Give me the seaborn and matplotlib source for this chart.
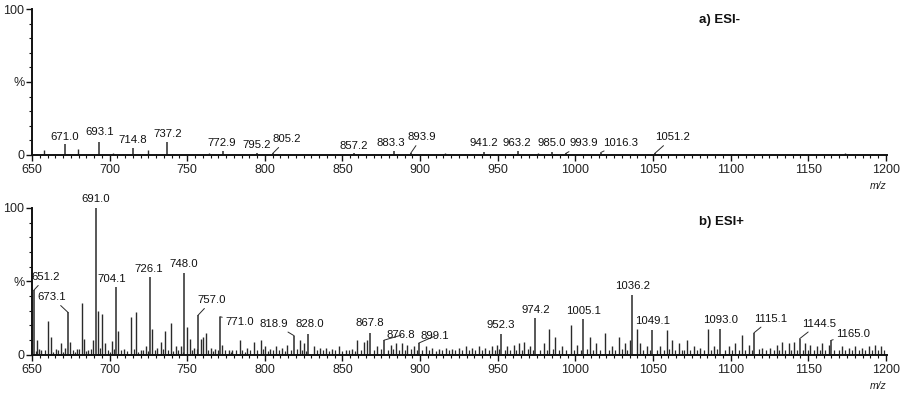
"""Two-panel ESI mass spectra (negative / positive mode) drawn as stick spectra."""
import matplotlib
matplotlib.use("Agg")
import matplotlib.pyplot as plt
from matplotlib.ticker import MultipleLocator, FixedLocator
import seaborn as sns

sns.set_style("ticks")
plt.rcParams["font.family"] = ["Liberation Sans", "DejaVu Sans"]

# ---------------- data: a) ESI- ----------------
neg_label_mz = [671.0, 693.1, 714.8, 737.2, 772.9, 795.2, 805.2, 857.2, 883.3,
                893.9, 941.2, 963.2, 985.0, 993.9, 1016.3, 1051.2]
neg_label_int = [7.5, 9.0, 5.0, 8.7, 2.3, 1.6, 1.1, 1.5, 2.3,
                 1.0, 2.0, 2.5, 2.0, 1.0, 1.5, 1.0]
neg_other_mz = [653.0, 658.0, 664.5, 679.6, 686.0, 702.0, 708.5, 724.7, 730.0,
                741.0, 764.0, 781.0, 816.0, 842.0, 870.0, 916.0, 929.0, 976.0,
                1023.0, 1038.7, 1047.0, 1080.0, 1112.0, 1140.0, 1174.0]
neg_other_int = [0.6, 3.0, 0.8, 4.0, 0.7, 1.0, 0.6, 3.0, 0.8,
                 0.7, 1.0, 0.5, 0.6, 0.5, 0.6, 1.5, 0.5, 1.0,
                 0.8, 0.8, 0.8, 0.5, 0.5, 0.6, 1.0]

# ---------------- data: b) ESI+ ----------------
pos_label_mz = [651.2, 673.1, 691.0, 704.1, 726.1, 748.0, 757.0, 771.0, 818.9,
                828.0, 867.8, 876.8, 899.1, 952.3, 974.2, 1005.1, 1036.2, 1049.1,
                1093.0, 1115.1, 1144.5, 1165.0]
pos_label_int = [44, 29, 100, 46, 53, 56, 27, 26, 13,
                 14, 15, 10, 8, 14, 25, 24.5, 41, 17,
                 17.5, 15, 11, 10]

# medium peaks (unlabelled)
pos_mid_mz = [653.4, 654.6, 656.0, 660.3, 662.4, 665.5, 668.8, 671.5, 674.6, 678.9,
              682.1, 683.2, 686.4, 689.6, 692.8, 695.4, 697.0, 701.3, 705.3, 709.2,
              713.5, 717.2, 719.9, 723.2, 727.5, 730.7, 732.8, 735.6, 739.3, 742.5,
              745.7, 750.0, 751.5, 754.3, 759.0, 760.3, 761.8, 765.0, 768.2, 772.5,
              776.8, 779.0, 783.9, 788.6, 792.9, 797.2, 800.4, 803.6, 806.9, 811.1,
              814.4, 822.9, 825.1, 831.5, 835.8, 839.1, 843.4, 847.7, 852.0, 856.2,
              859.5, 863.8, 865.9, 872.4, 881.0, 884.2, 888.5, 891.7, 896.0, 903.5,
              907.8, 912.1, 916.4, 920.6, 925.0, 929.3, 933.5, 937.8, 942.1, 946.4,
              949.6, 956.0, 960.4, 963.6, 967.2, 971.1, 979.7, 983.3, 987.2, 991.5,
              996.9, 1001.1, 1009.7, 1013.0, 1019.4, 1023.7, 1028.0, 1032.3, 1034.9, 1039.8,
              1041.9, 1046.2, 1054.8, 1059.1, 1062.3, 1066.6, 1072.0, 1076.3, 1080.6, 1085.3,
              1089.1, 1098.8, 1103.1, 1107.4, 1111.7, 1120.3, 1125.6, 1129.9, 1133.1, 1137.4,
              1140.7, 1148.2, 1151.4, 1155.7, 1158.9, 1163.2, 1171.8, 1176.1, 1180.4, 1184.6,
              1188.9, 1193.3, 1197.1]
pos_mid_int = [10, 4, 3, 23, 12.5, 4, 8, 5, 9, 4,
               35, 11, 3, 10, 30, 28, 8, 9.5, 16.5, 4,
               25.6, 29, 3, 6, 17.5, 5, 9, 16, 22, 6,
               6, 19, 11, 5, 11, 12.5, 15, 5, 4, 7,
               3, 3, 10, 5, 9, 10, 6, 4, 6, 5,
               7, 10, 8, 6, 5, 5, 4, 6, 3, 4,
               10, 9, 10, 6, 7, 8, 8, 7, 6, 6,
               5, 4, 5, 4, 5, 6, 5, 6, 5, 6,
               7, 6, 7, 8, 9, 6, 8, 17.5, 12, 6,
               20, 7, 12, 8, 15, 6, 12.5, 8, 10, 17.5,
               8, 6, 6, 17, 10, 8, 10, 6, 5, 17.5,
               6, 6, 8, 13.6, 7, 5, 5, 7, 9, 8,
               9, 8, 7, 6, 8, 7, 6, 5, 6, 5,
               6, 7, 6]

# low-level chemical noise
pos_low_mz = [652.5, 658.1, 663.8, 667.0, 670.2, 676.1, 677.5, 680.4, 685.0, 688.0,
              694.0, 699.1, 700.2, 703.0, 707.4, 711.0, 715.4, 718.5, 721.6, 724.6,
              729.0, 734.2, 737.6, 741.0, 744.1, 747.0, 753.0, 756.0, 763.5, 766.6,
              769.8, 774.4, 778.0, 781.4, 785.5, 787.2, 790.5, 794.8, 798.8, 802.0,
              805.2, 808.8, 812.8, 816.9, 820.8, 824.0, 826.8, 833.4, 837.5, 841.3,
              845.5, 849.9, 854.0, 858.0, 861.7, 870.2, 874.8, 879.1, 882.6, 886.4,
              890.0, 893.9, 898.0, 901.4, 905.6, 910.0, 914.2, 918.4, 922.8, 927.1,
              931.4, 935.6, 940.0, 944.3, 948.0, 951.0, 954.4, 958.2, 962.0, 965.4,
              969.2, 972.8, 977.0, 981.5, 985.3, 989.5, 993.9, 999.0, 1003.4, 1007.6,
              1011.4, 1016.0, 1021.5, 1025.8, 1030.0, 1033.6, 1043.9, 1048.0, 1052.4, 1057.0,
              1060.6, 1064.4, 1068.8, 1070.3, 1074.0, 1078.4, 1082.8, 1087.2, 1091.5, 1096.3,
              1100.9, 1105.2, 1109.6, 1113.8, 1118.2, 1122.9, 1127.8, 1131.5, 1135.3, 1139.0,
              1142.8, 1146.6, 1150.0, 1153.6, 1157.3, 1161.0, 1166.4, 1169.6, 1174.0, 1178.3,
              1182.5, 1186.8, 1191.1, 1195.2, 1199.0]
pos_low_int = [2.5, 3, 2, 3.5, 2, 3, 2, 4, 2.5, 4,
               5, 3, 2, 4, 3, 2.5, 4, 2, 3.5, 2.5,
               3, 4, 3, 2.5, 3.5, 2, 3, 4, 3, 2.5,
               3.5, 3, 2, 3.5, 3, 2, 3.5, 3, 4, 2.5,
               3.5, 3, 2.5, 3.5, 4, 3, 2.5, 3, 3.5, 2.5,
               3, 2.5, 3, 2.5, 3.5, 3, 4, 3, 4, 3.5,
               3, 4, 3, 3.5, 3, 2.5, 3, 3.5, 3, 3.5,
               3, 3.5, 3, 3.5, 3, 4, 3.5, 3, 3.5, 3,
               4, 3, 3.5, 3, 4, 3, 3.5, 3, 3.5, 4,
               3, 3.5, 3, 3.5, 4, 3, 3.5, 3, 3.5, 3,
               4, 3, 3.5, 3, 3.5, 3, 3.5, 3, 4, 3,
               3.5, 3, 3.5, 3, 4, 3, 3.5, 3, 3.5, 3,
               3.5, 3, 3.5, 3, 3.5, 3, 3.5, 3, 3.5, 3,
               3.5, 3, 3.5, 3, 3]

x_ticks = [650, 700, 750, 800, 850, 900, 950, 1000, 1050, 1100, 1150, 1200]
y_ticks = [0, 50, 100]
y_ticklabels = ["0", "%", "100"]

# label placement (pixel offsets from peak top; leader line flag)
neg_offsets = [(0, 1, False), (1, 4, False), (0, 2, False), (0, 2, False), (-1, 2, False),
               (-1, 2, False), (14, 8, True), (0, 1, False), (-3, 2, False), (11, 10, True),
               (0, 3, False), (-1, 2, False), (0, 3, False), (18, 4, True), (20, 4, True),
               (18, 10, True)]
pos_offsets = [(12, 7, True), (-16, 9, True), (0, 3, False), (-4, 2, False), (-1, 2, False),
               (0, 3, False), (14, 9, True), (20, -11, True), (-20, 6, True), (1, 4, False),
               (0, 4, False), (17, -1, True), (16, 1, True), (-1, 3, False), (1, 2, False),
               (0, 2, False), (1, 3, False), (1, 3, False), (1, 3, False), (17, 8, True),
               (19, 9, True), (22, 0, True)]

STEM = "#2a2a2a"

fig = plt.figure(figsize=(9.14, 3.93), dpi=100)
ax_a = fig.add_axes([0.035, 0.606, 0.935, 0.371])
ax_b = fig.add_axes([0.035, 0.097, 0.935, 0.374])


def draw_panel(ax, groups, lab_mz, lab_int, offsets, title, title_y):
    for mz, inten, lw in groups:
        ax.vlines(mz, 0, inten, color=STEM, lw=lw)
    ax.vlines(lab_mz, 0, lab_int, color=STEM, lw=1.1)
    for mz, inten, (dx, dy, lead) in zip(lab_mz, lab_int, offsets):
        kw = {}
        if lead:
            kw["arrowprops"] = dict(arrowstyle="-", lw=0.7, color=STEM,
                                    shrinkA=0, shrinkB=0)
        ax.annotate(f"{mz:.1f}", xy=(mz, inten), xytext=(dx, dy + 1),
                    textcoords="offset pixels", ha="center", va="bottom",
                    fontsize=8.2, color="#111", annotation_clip=False, **kw)

    ax.set_xlim(650, 1200.5)
    ax.set_ylim(0, 100)
    ax.xaxis.set_major_locator(FixedLocator(x_ticks))
    ax.xaxis.set_minor_locator(MultipleLocator(5))
    ax.yaxis.set_major_locator(FixedLocator(y_ticks))
    ax.yaxis.set_minor_locator(MultipleLocator(10))
    ax.set_yticklabels(y_ticklabels)
    ax.tick_params(axis="both", which="major", length=4.5, width=1.0,
                   labelsize=9, pad=2, color="#111", labelcolor="#222")
    ax.tick_params(axis="both", which="minor", length=2.5, width=0.8, color="#111")
    ax.tick_params(axis="y", which="major", pad=1)
    sns.despine(ax=ax)
    for side in ("left", "bottom"):
        ax.spines[side].set_linewidth(1.4)
        ax.spines[side].set_color("#111")
    ax.text(0.781, title_y, title, transform=ax.transAxes, fontsize=9.5,
            fontweight="bold", ha="left", va="center", color="#111")
    ax.text(1.0, -0.215, "m/z", transform=ax.transAxes, fontsize=7.5,
            style="italic", ha="right", va="center", color="#222")


draw_panel(ax_a, [(neg_other_mz, neg_other_int, 1.0)], neg_label_mz, neg_label_int,
           neg_offsets, "a) ESI-", 0.925)
draw_panel(ax_b, [(pos_low_mz, pos_low_int, 0.9), (pos_mid_mz, pos_mid_int, 1.0)],
           pos_label_mz, pos_label_int, pos_offsets, "b) ESI+", 0.907)

fig.savefig("out.png", dpi=100)
